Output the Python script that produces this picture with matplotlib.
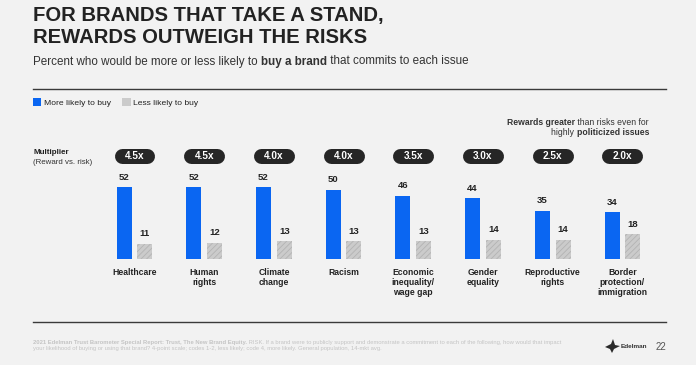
import matplotlib
matplotlib.use("Agg")
import matplotlib.pyplot as plt
import numpy as np
from matplotlib.patches import Patch, Polygon
from matplotlib.lines import Line2D

# Data
issues = ["Healthcare", "Human\nrights", "Climate\nchange", "Racism",
          "Economic\ninequality/\nwage gap", "Gender\nequality",
          "Reproductive\nrights", "Border\nprotection/\nimmigration"]
more_likely = [52, 52, 52, 50, 46, 44, 35, 34]
less_likely = [11, 12, 13, 13, 13, 14, 14, 18]
multipliers = ["4.5x", "4.5x", "4.0x", "4.0x", "3.5x", "3.0x", "2.5x", "2.0x"]

BLUE = "#0a66f2"
GREY = "#cbcbcb"
BG = "#f2f2f2"
W, H = 696, 365

plt.rcParams["font.family"] = ["Liberation Sans", "DejaVu Sans"]
plt.rcParams["hatch.linewidth"] = 0.6

fig = plt.figure(figsize=(W / 100, H / 100), dpi=100, facecolor=BG)
renderer = fig.canvas.get_renderer()


def fx(px):
    return px / W


def fy(py):
    return 1 - py / H


def text_width(s, size, bold):
    t = fig.text(0, 0, s, fontsize=size, fontweight="bold" if bold else "normal")
    w = t.get_window_extent(renderer).width
    t.remove()
    return w


def rich_text(x, y, parts, size, color, ha="left"):
    # parts: list of (string, bold) drawn one after the other on a line
    widths = [text_width(s, size, b) for s, b in parts]
    if ha == "right":
        x = x - sum(widths)
    for (s, b), w in zip(parts, widths):
        fig.text(fx(x), fy(y), s, fontsize=size, fontweight="bold" if b else "normal",
                 color=color, va="baseline", ha="left")
        x += w


# title and subtitle
fig.text(fx(33), fy(21), "FOR BRANDS THAT TAKE A STAND,", fontsize=14.6,
         fontweight="bold", color="#222222", va="baseline")
fig.text(fx(33), fy(43), "REWARDS OUTWEIGH THE RISKS", fontsize=14.6,
         fontweight="bold", color="#222222", va="baseline")
rich_text(33, 64.5, [("Percent who would be more or less likely to ", False),
                     ("buy a brand", True),
                     (" that commits to each issue", False)], 8.35, "#333333")

# rules under the header and above the footer
fig.add_artist(Line2D([fx(33), fx(666)], [fy(88.7), fy(88.7)], color="#3a3a3a", lw=1.0))
fig.add_artist(Line2D([fx(33), fx(666)], [fy(322), fy(322)], color="#3a3a3a", lw=1.0))

# bars
ax = fig.add_axes([fx(99.65), fy(259.3), (657.25 - 99.65) / W, 83.2 / H])
ax.set_facecolor(BG)
x = np.arange(len(issues))
off = 0.149
bw = 0.215
ax.bar(x - off, more_likely, bw, color=BLUE, linewidth=0)
ax.bar(x + off, less_likely, bw, color=GREY, edgecolor="#b3b3b3", hatch="//////", linewidth=0)
ax.set_xlim(-0.5, 7.5)
ax.set_ylim(0, 60)
ax.axis("off")

for i in range(len(issues)):
    ax.annotate(str(more_likely[i]), (x[i] - off, more_likely[i]), xytext=(0, 4),
                textcoords="offset points", ha="center", va="bottom",
                fontsize=6.8, fontweight="bold", color="#222222")
    ax.annotate(str(less_likely[i]), (x[i] + off, less_likely[i]), xytext=(0, 4),
                textcoords="offset points", ha="center", va="bottom",
                fontsize=6.8, fontweight="bold", color="#222222")
    ax.annotate(issues[i], (x[i], 0), xytext=(0, -6.5), textcoords="offset points",
                ha="center", va="top", fontsize=6.2, fontweight="bold",
                color="#222222", linespacing=1.15)
    # multiplier pill: a thick line with round caps
    ax.plot([x[i] - 0.1865, x[i] + 0.1865], [74.5, 74.5], color="#262626",
            lw=10.8, solid_capstyle="round", clip_on=False)
    ax.text(x[i], 74.5, multipliers[i], ha="center", va="center", fontsize=7.2,
            fontweight="bold", color="white", clip_on=False)

# legend
handles = [Patch(facecolor=BLUE, linewidth=0),
           Patch(facecolor=GREY, linewidth=0)]
fig.legend(handles, ["More likely to buy", "Less likely to buy"], loc="center left",
           bbox_to_anchor=(fx(33), fy(102.5)), ncol=2, frameon=False, fontsize=6.1,
           handlelength=1.0, handleheight=1.0, handletextpad=0.3, columnspacing=1.3,
           borderpad=0, borderaxespad=0, labelcolor="#222222")

# multiplier caption
fig.text(fx(33), fy(154), "Multiplier", fontsize=5.8, fontweight="bold",
         color="#222222", va="baseline")
fig.text(fx(33), fy(163.5), "(Reward vs. risk)", fontsize=5.7, color="#333333",
         va="baseline")

# annotation top right
rich_text(649, 125, [("Rewards greater", True), (" than risks even for", False)], 6.2, "#333333",
          ha="right")
rich_text(649, 135, [("highly ", False), ("politicized issues", True)], 6.2, "#333333",
          ha="right")

# footer
foot_col = "#c4c4c4"
rich_text(33, 344, [("2021 Edelman Trust Barometer Special Report: Trust, The New Brand Equity.", True),
                    (" RISK. If a brand were to publicly support and demonstrate a commitment to each of "
                     "the following, how would that impact", False)], 4.25, foot_col)
fig.text(fx(33), fy(350), "your likelihood of buying or using that brand? 4-point scale; codes 1-2, "
         "less likely; code 4, more likely. General population, 14-mkt avg.",
         fontsize=4.25, color=foot_col, va="baseline")

# logo and page number
logo = [(605, 347), (611, 344), (613, 339), (615, 345), (620, 346), (614, 349),
        (612, 353), (610, 349)]
fig.add_artist(Polygon([(fx(a), fy(b)) for a, b in logo], closed=True,
                       facecolor="#2a2a2a", edgecolor="none"))
fig.text(fx(621), fy(346.7), "Edelman", fontsize=4.6, fontweight="bold", color="#333333",
         va="center")
fig.text(fx(656), fy(346.7), "22", fontsize=7, color="#555555", va="center")

fig.savefig("out.png", dpi=100, facecolor=BG)
